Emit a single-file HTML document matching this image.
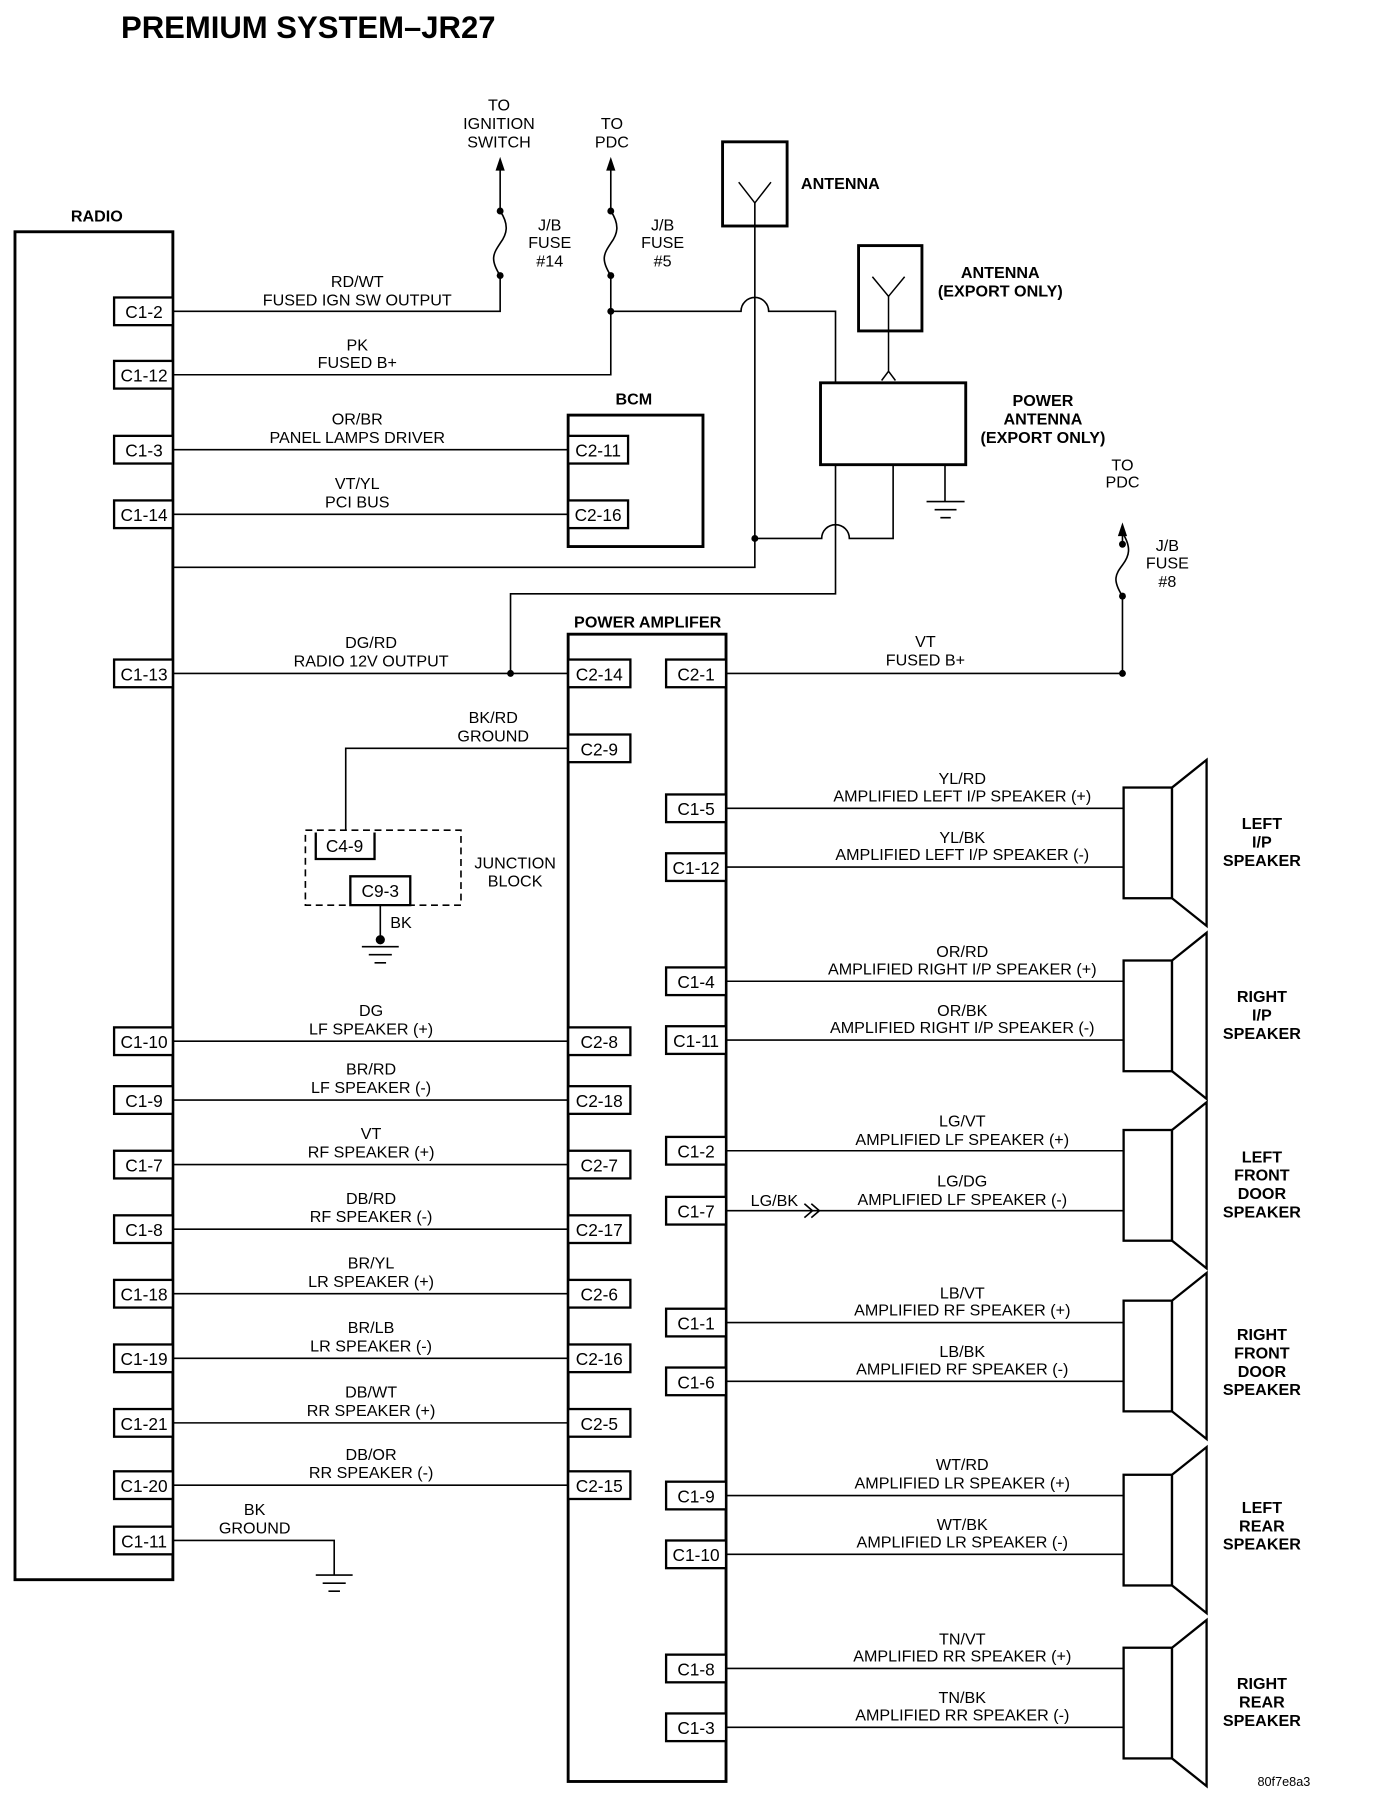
<!DOCTYPE html>
<html><head><meta charset="utf-8"><style>
html,body{margin:0;padding:0;background:#fff;}
svg{display:block;}
text{font-family:"Liberation Sans",sans-serif;fill:#000;}
.t{font-size:14px;text-anchor:middle;}
.b{font-weight:bold;}
.p{font-size:15px;text-anchor:middle;}
.l{font-size:14px;font-weight:bold;text-anchor:middle;}
</style></head><body>
<svg width="1376" height="1808" viewBox="0 0 1194 1568" preserveAspectRatio="none" xmlns="http://www.w3.org/2000/svg">
<g fill="none" stroke="#000">
<rect x="13" y="201" width="137" height="1169" stroke-width="2.5"/>
<rect x="493" y="360" width="117" height="114" stroke-width="2.5"/>
<rect x="493" y="550" width="137" height="995" stroke-width="2.5"/>
<rect x="627" y="123" width="56" height="73" stroke-width="2.5"/>
<rect x="745" y="213" width="55" height="74" stroke-width="2.5"/>
<rect x="712" y="332" width="126" height="71" stroke-width="2.5"/>
<path d="M641 158 L655 176 L669 158" stroke-width="1.3"/>
<path d="M757 240 L771 257 L785 240" stroke-width="1.3"/>
<path d="M771 257 V322 M765 330 L771 322 L777 330" stroke-width="1.3"/>
</g>
<g fill="none" stroke="#000" stroke-width="1.4">
<path d="M150 270 H434 V239"/>
<path d="M434 183 V145"/>
<path d="M434 239 C425 225,428 220,434 211 C440 203,442 195,434 183"/>
<path d="M150 325 H530 V239"/>
<path d="M530 183 V145"/>
<path d="M530 239 C521 225,524 220,530 211 C536 203,538 195,530 183"/>
<path d="M530 270 H643 A12 12 0 0 1 667 270 H725 V332 M725 403 V515 H443 V584"/>
<path d="M655 176 V492 H150"/>
<path d="M655 467 H713 A12 12 0 0 1 737 467 H775 V403"/>
<path d="M820 403 V435"/>
<path d="M804 435 H837 M811 442 H830 M816 449 H825"/>
<path d="M150 390 H493 M150 446 H493"/>
<path d="M150 584 H493"/>
<path d="M630 584 H974 V517"/>
<path d="M974 462 V472"/>
<path d="M974 517 C965 503,968 498,974 490 C980 482,982 475,974 462"/>
<path d="M547 649 H300 V720"/>
<path d="M330 785 V815"/>
<path d="M314 821 H346 M320 828 H340 M325 835 H335"/>
<path d="M150 1336 H290 V1366 M274 1366 H306 M280 1373 H300 M285 1380 H295"/>
<path d="M150 903 H493 M150 954 H493 M150 1010 H493 M150 1066 H493 M150 1122 H493 M150 1178 H493 M150 1234 H493 M150 1288 H493"/>
<path d="M630 701 H975 M630 752 H975 M630 851 H975 M630 902 H975 M630 998 H975 M630 1050 H975 M630 1147 H975 M630 1198 H975 M630 1297 H975 M630 1348 H975 M630 1447 H975 M630 1498 H975"/>
<path d="M698 1044 L705 1050 L698 1056 M704 1044 L711 1050 L704 1056" />
<rect x="265" y="720" width="135" height="65" stroke-dasharray="6 4"/>
</g>
<g fill="#000">
<path d="M430 148 L434 136 L438 148Z M526 148 L530 136 L534 148Z M970 465 L974 453 L978 465Z"/>
<circle cx="434" cy="239" r="3"/><circle cx="434" cy="183" r="3"/>
<circle cx="530" cy="239" r="3"/><circle cx="530" cy="183" r="3"/>
<circle cx="530" cy="270" r="3"/><circle cx="655" cy="467" r="3"/>
<circle cx="443" cy="584" r="3"/><circle cx="974" cy="584" r="3"/>
<circle cx="974" cy="517" r="3"/><circle cx="974" cy="472" r="3"/>
<circle cx="330" cy="815" r="4"/>
</g>
<g fill="#fff" stroke="#000" stroke-width="2">
<rect x="975" y="683" width="42" height="96"/><path d="M1017 683 L1047 659 V803 L1017 779Z"/>
<rect x="975" y="833" width="42" height="96"/><path d="M1017 833 L1047 809 V953 L1017 929Z"/>
<rect x="975" y="980" width="42" height="96"/><path d="M1017 980 L1047 956 V1100 L1017 1076Z"/>
<rect x="975" y="1128" width="42" height="96"/><path d="M1017 1128 L1047 1104 V1248 L1017 1224Z"/>
<rect x="975" y="1279" width="42" height="96"/><path d="M1017 1279 L1047 1255 V1399 L1017 1375Z"/>
<rect x="975" y="1429" width="42" height="96"/><path d="M1017 1429 L1047 1405 V1549 L1017 1525Z"/>
</g>
<g fill="#fff" stroke="#000" stroke-width="2">
<rect x="99" y="258" width="51" height="24"/><rect x="99" y="313" width="51" height="24"/>
<rect x="99" y="378" width="51" height="24"/><rect x="99" y="434" width="51" height="24"/>
<rect x="99" y="572" width="51" height="24"/><rect x="99" y="891" width="51" height="24"/>
<rect x="99" y="942" width="51" height="24"/><rect x="99" y="998" width="51" height="24"/>
<rect x="99" y="1054" width="51" height="24"/><rect x="99" y="1110" width="51" height="24"/>
<rect x="99" y="1166" width="51" height="24"/><rect x="99" y="1222" width="51" height="24"/>
<rect x="99" y="1276" width="51" height="24"/><rect x="99" y="1324" width="51" height="24"/>
<rect x="493" y="378" width="52" height="24"/><rect x="493" y="434" width="52" height="24"/>
<rect x="493" y="572" width="54" height="24"/><rect x="493" y="637" width="54" height="24"/>
<rect x="493" y="891" width="54" height="24"/><rect x="493" y="942" width="54" height="24"/>
<rect x="493" y="998" width="54" height="24"/><rect x="493" y="1054" width="54" height="24"/>
<rect x="493" y="1110" width="54" height="24"/><rect x="493" y="1166" width="54" height="24"/>
<rect x="493" y="1222" width="54" height="24"/><rect x="493" y="1276" width="54" height="24"/>
<rect x="578" y="572" width="52" height="24"/><rect x="578" y="689" width="52" height="24"/>
<rect x="578" y="740" width="52" height="24"/><rect x="578" y="839" width="52" height="24"/>
<rect x="578" y="890" width="52" height="24"/><rect x="578" y="986" width="52" height="24"/>
<rect x="578" y="1038" width="52" height="24"/><rect x="578" y="1135" width="52" height="24"/>
<rect x="578" y="1186" width="52" height="24"/><rect x="578" y="1285" width="52" height="24"/>
<rect x="578" y="1336" width="52" height="24"/><rect x="578" y="1435" width="52" height="24"/>
<rect x="578" y="1486" width="52" height="24"/>
<path d="M274 722 V745 H325 V722 M304 760 H356 V785 H304 Z"/>
</g>
<g class="p">
<text x="125" y="276" class="p">C1-2</text><text x="125" y="331" class="p">C1-12</text>
<text x="125" y="396" class="p">C1-3</text><text x="125" y="452" class="p">C1-14</text>
<text x="125" y="590" class="p">C1-13</text><text x="125" y="909" class="p">C1-10</text>
<text x="125" y="960" class="p">C1-9</text><text x="125" y="1016" class="p">C1-7</text>
<text x="125" y="1072" class="p">C1-8</text><text x="125" y="1128" class="p">C1-18</text>
<text x="125" y="1184" class="p">C1-19</text><text x="125" y="1240" class="p">C1-21</text>
<text x="125" y="1294" class="p">C1-20</text><text x="125" y="1342" class="p">C1-11</text>
<text x="519" y="396" class="p">C2-11</text><text x="519" y="452" class="p">C2-16</text>
<text x="520" y="590" class="p">C2-14</text><text x="520" y="655" class="p">C2-9</text>
<text x="520" y="909" class="p">C2-8</text><text x="520" y="960" class="p">C2-18</text>
<text x="520" y="1016" class="p">C2-7</text><text x="520" y="1072" class="p">C2-17</text>
<text x="520" y="1128" class="p">C2-6</text><text x="520" y="1184" class="p">C2-16</text>
<text x="520" y="1240" class="p">C2-5</text><text x="520" y="1294" class="p">C2-15</text>
<text x="604" y="590" class="p">C2-1</text><text x="604" y="707" class="p">C1-5</text>
<text x="604" y="758" class="p">C1-12</text><text x="604" y="857" class="p">C1-4</text>
<text x="604" y="908" class="p">C1-11</text><text x="604" y="1004" class="p">C1-2</text>
<text x="604" y="1056" class="p">C1-7</text><text x="604" y="1153" class="p">C1-1</text>
<text x="604" y="1204" class="p">C1-6</text><text x="604" y="1303" class="p">C1-9</text>
<text x="604" y="1354" class="p">C1-10</text><text x="604" y="1453" class="p">C1-8</text>
<text x="604" y="1504" class="p">C1-3</text>
<text x="299" y="739" class="p">C4-9</text><text x="330" y="778" class="p">C9-3</text>
</g>
<text x="105" y="33" style="font-size:27px;font-weight:bold" textLength="325" lengthAdjust="spacingAndGlyphs">PREMIUM SYSTEM–JR27</text>
<g class="l">
<text x="84" y="192" class="l">RADIO</text>
<text x="550" y="351" class="l">BCM</text>
<text x="562" y="544" class="l">POWER AMPLIFER</text>
<text x="695" y="164" class="l" style="text-anchor:start">ANTENNA</text>
<text x="868" y="241" class="l">ANTENNA</text><text x="868" y="257" class="l">(EXPORT ONLY)</text>
<text x="905" y="352" class="l">POWER</text><text x="905" y="368" class="l">ANTENNA</text><text x="905" y="384" class="l">(EXPORT ONLY)</text>
<text x="1095" y="719" class="l">LEFT</text><text x="1095" y="735" class="l">I/P</text><text x="1095" y="751" class="l">SPEAKER</text>
<text x="1095" y="869" class="l">RIGHT</text><text x="1095" y="885" class="l">I/P</text><text x="1095" y="901" class="l">SPEAKER</text>
<text x="1095" y="1008" class="l">LEFT</text><text x="1095" y="1024" class="l">FRONT</text><text x="1095" y="1040" class="l">DOOR</text><text x="1095" y="1056" class="l">SPEAKER</text>
<text x="1095" y="1162" class="l">RIGHT</text><text x="1095" y="1178" class="l">FRONT</text><text x="1095" y="1194" class="l">DOOR</text><text x="1095" y="1210" class="l">SPEAKER</text>
<text x="1095" y="1312" class="l">LEFT</text><text x="1095" y="1328" class="l">REAR</text><text x="1095" y="1344" class="l">SPEAKER</text>
<text x="1095" y="1465" class="l">RIGHT</text><text x="1095" y="1481" class="l">REAR</text><text x="1095" y="1497" class="l">SPEAKER</text>
</g>
<g class="t">
<text x="433" y="96" class="t">TO</text><text x="433" y="112" class="t">IGNITION</text><text x="433" y="128" class="t">SWITCH</text>
<text x="531" y="112" class="t">TO</text><text x="531" y="128" class="t">PDC</text>
<text x="477" y="200" class="t">J/B</text><text x="477" y="215" class="t">FUSE</text><text x="477" y="231" class="t">#14</text>
<text x="575" y="200" class="t">J/B</text><text x="575" y="215" class="t">FUSE</text><text x="575" y="231" class="t">#5</text>
<text x="974" y="408" class="t">TO</text><text x="974" y="423" class="t">PDC</text>
<text x="1013" y="478" class="t">J/B</text><text x="1013" y="493" class="t">FUSE</text><text x="1013" y="509" class="t">#8</text>
<text x="310" y="249" class="t">RD/WT</text><text x="310" y="265" class="t">FUSED IGN SW OUTPUT</text>
<text x="310" y="304" class="t">PK</text><text x="310" y="319" class="t">FUSED B+</text>
<text x="310" y="368" class="t">OR/BR</text><text x="310" y="384" class="t">PANEL LAMPS DRIVER</text>
<text x="310" y="424" class="t">VT/YL</text><text x="310" y="440" class="t">PCI BUS</text>
<text x="322" y="562" class="t">DG/RD</text><text x="322" y="578" class="t">RADIO 12V OUTPUT</text>
<text x="322" y="881" class="t">DG</text><text x="322" y="897" class="t">LF SPEAKER (+)</text>
<text x="322" y="932" class="t">BR/RD</text><text x="322" y="948" class="t">LF SPEAKER (-)</text>
<text x="322" y="988" class="t">VT</text><text x="322" y="1004" class="t">RF SPEAKER (+)</text>
<text x="322" y="1044" class="t">DB/RD</text><text x="322" y="1060" class="t">RF SPEAKER (-)</text>
<text x="322" y="1100" class="t">BR/YL</text><text x="322" y="1116" class="t">LR SPEAKER (+)</text>
<text x="322" y="1156" class="t">BR/LB</text><text x="322" y="1172" class="t">LR SPEAKER (-)</text>
<text x="322" y="1212" class="t">DB/WT</text><text x="322" y="1228" class="t">RR SPEAKER (+)</text>
<text x="322" y="1266" class="t">DB/OR</text><text x="322" y="1282" class="t">RR SPEAKER (-)</text>
<text x="221" y="1314" class="t">BK</text><text x="221" y="1330" class="t">GROUND</text>
<text x="428" y="627" class="t">BK/RD</text><text x="428" y="643" class="t">GROUND</text>
<text x="348" y="805" class="t">BK</text>
<text x="447" y="753" class="t">JUNCTION</text><text x="447" y="769" class="t">BLOCK</text>
<text x="803" y="561" class="t">VT</text><text x="803" y="577" class="t">FUSED B+</text>
<text x="672" y="1046" class="t">LG/BK</text>
<text x="835" y="680" class="t">YL/RD</text><text x="835" y="695" class="t">AMPLIFIED LEFT I/P SPEAKER (+)</text>
<text x="835" y="731" class="t">YL/BK</text><text x="835" y="746" class="t">AMPLIFIED LEFT I/P SPEAKER (-)</text>
<text x="835" y="830" class="t">OR/RD</text><text x="835" y="845" class="t">AMPLIFIED RIGHT I/P SPEAKER (+)</text>
<text x="835" y="881" class="t">OR/BK</text><text x="835" y="896" class="t">AMPLIFIED RIGHT I/P SPEAKER (-)</text>
<text x="835" y="977" class="t">LG/VT</text><text x="835" y="993" class="t">AMPLIFIED LF SPEAKER (+)</text>
<text x="835" y="1029" class="t">LG/DG</text><text x="835" y="1045" class="t">AMPLIFIED LF SPEAKER (-)</text>
<text x="835" y="1126" class="t">LB/VT</text><text x="835" y="1141" class="t">AMPLIFIED RF SPEAKER (+)</text>
<text x="835" y="1177" class="t">LB/BK</text><text x="835" y="1192" class="t">AMPLIFIED RF SPEAKER (-)</text>
<text x="835" y="1275" class="t">WT/RD</text><text x="835" y="1291" class="t">AMPLIFIED LR SPEAKER (+)</text>
<text x="835" y="1327" class="t">WT/BK</text><text x="835" y="1342" class="t">AMPLIFIED LR SPEAKER (-)</text>
<text x="835" y="1426" class="t">TN/VT</text><text x="835" y="1441" class="t">AMPLIFIED RR SPEAKER (+)</text>
<text x="835" y="1477" class="t">TN/BK</text><text x="835" y="1492" class="t">AMPLIFIED RR SPEAKER (-)</text>
</g>
<text x="1137" y="1549" style="font-size:11px;text-anchor:end">80f7e8a3</text>
</svg>
</body></html>
